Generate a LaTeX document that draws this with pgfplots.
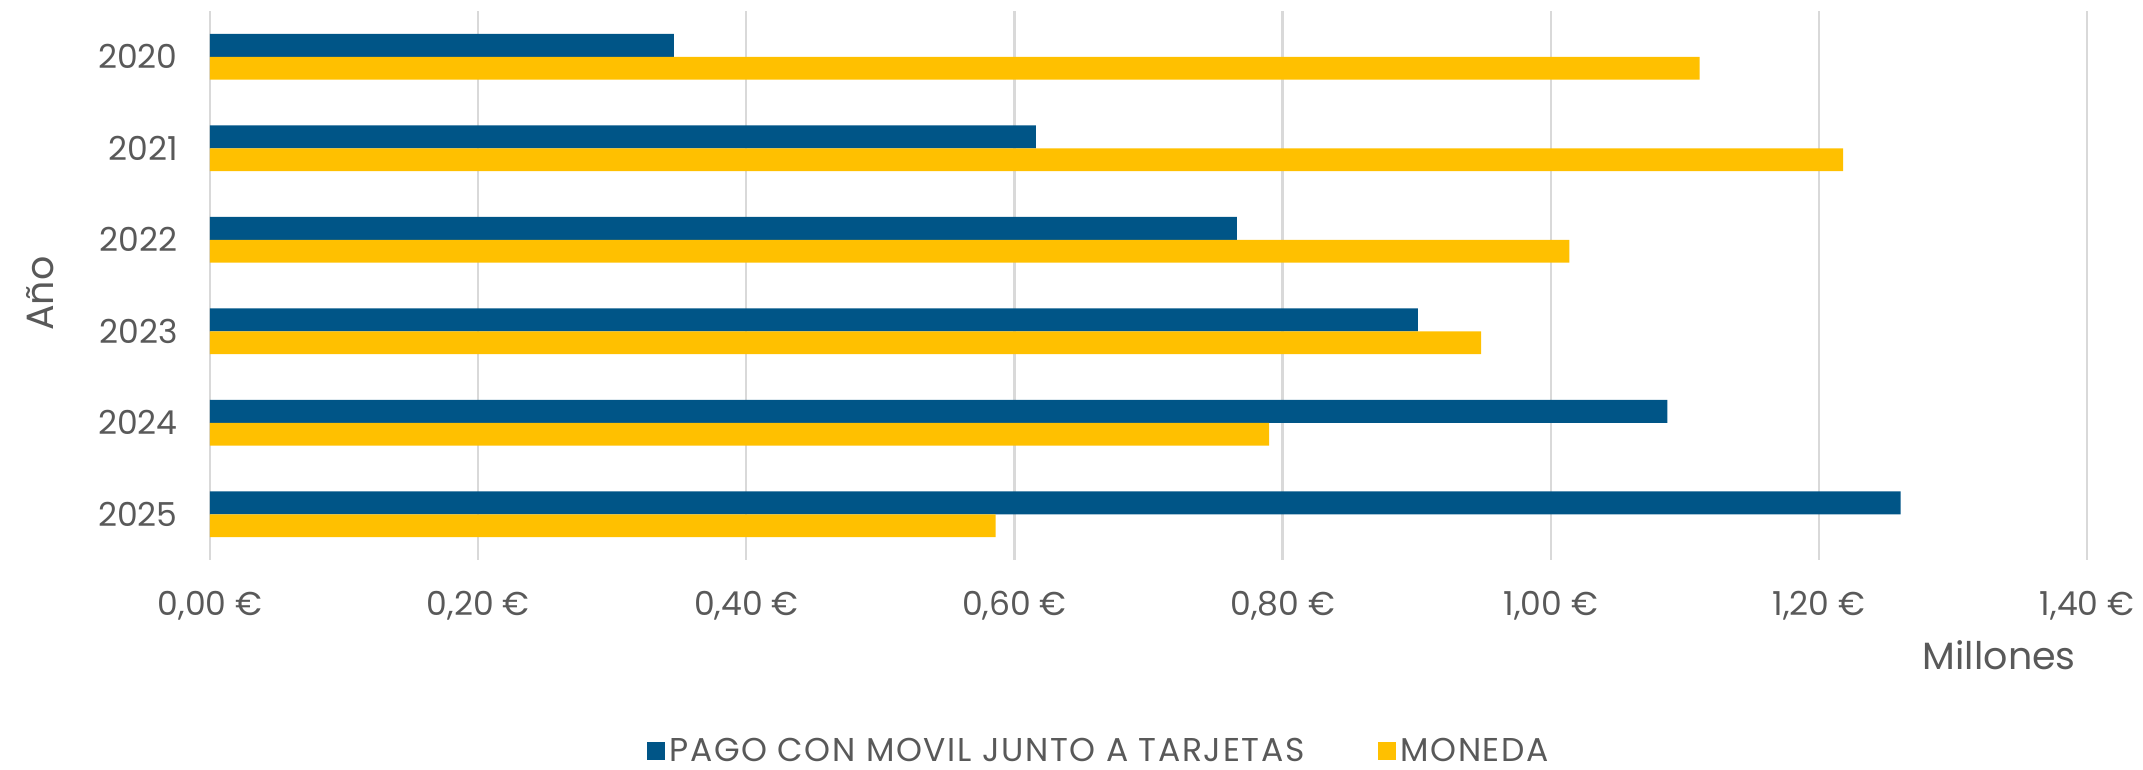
\documentclass[border=0pt]{standalone}
\usepackage{pgfplots}
\pgfplotsset{compat=1.18}
\usepackage{fontspec}
\setmainfont{Poppins}
\definecolor{blueC}{RGB}{0,85,135}
\definecolor{yellowC}{RGB}{255,192,0}
\definecolor{txt}{RGB}{89,89,89}
\definecolor{gridC}{RGB}{217,217,217}
\begin{document}
\begin{tikzpicture}
\begin{axis}[
  at={(0pt,0pt)}, anchor=south west,
  scale only axis, width=938.5pt, height=274.5pt,
  xbar,
  xmin=0, xmax=1.4,
  ymin=-0.5, ymax=5.5, y dir=reverse,
  axis line style={draw=none},
  xtick={0,0.2,0.4,0.6,0.8,1.0,1.2,1.4},
  xticklabels={{0,00 €},{0,20 €},{0,40 €},{0,60 €},{0,80 €},{1,00 €},{1,20 €},{1,40 €}},
  ytick={0,1,2,3,4,5},
  yticklabels={2020,2021,2022,2023,2024,2025},
  major tick length=0pt,
  tick style={draw=none},
  xmajorgrids, grid style={gridC, line width=1.2pt},
  ymajorgrids=false,
  ticklabel style={font=\fontsize{16.5}{19}\selectfont, text=txt, inner sep=0pt},
  xticklabel style={anchor=base, yshift=-27.5pt},
  yticklabel style={anchor=east, xshift=-16pt},
  bar width=0.25,
  legend columns=2,
  legend style={at={(rel axis cs:0.4742,-0.3479)}, anchor=center, draw=none, fill=none,
    inner sep=0pt,
    font=\fontsize{16.5}{19}\selectfont\addfontfeature{LetterSpace=5}, text=txt,
    /tikz/every even column/.append style={column sep=35pt},
    nodes={inner xsep=2pt, inner ysep=0pt}},
  clip=false,
]
\addplot[fill=blueC, draw=none, bar shift=-0.125,
  legend image code/.code={\fill[blueC] (0pt,-4.5pt) rectangle (9pt,4.5pt);}]
  coordinates {(0.346,0) (0.616,1) (0.766,2) (0.901,3) (1.087,4) (1.261,5)};
\addlegendentry{PAGO CON MOVIL JUNTO A TARJETAS}
\addplot[fill=yellowC, draw=none, bar shift=0.125,
  legend image code/.code={\fill[yellowC] (0pt,-4.5pt) rectangle (9pt,4.5pt);}]
  coordinates {(1.111,0) (1.218,1) (1.014,2) (0.948,3) (0.790,4) (0.586,5)};
\addlegendentry{MONEDA}
\node[font=\fontsize{19}{22}\selectfont, text=txt, anchor=east, inner sep=0pt] at (rel axis cs:0.9942,-0.173) {Millones};
\node[font=\fontsize{19}{22}\selectfont, text=txt, rotate=90, inner sep=0pt] at (rel axis cs:-0.0906,0.485) {Año};
\end{axis}
\path (-105pt,-105pt) rectangle (966.5pt,280pt);
\end{tikzpicture}
\end{document}
